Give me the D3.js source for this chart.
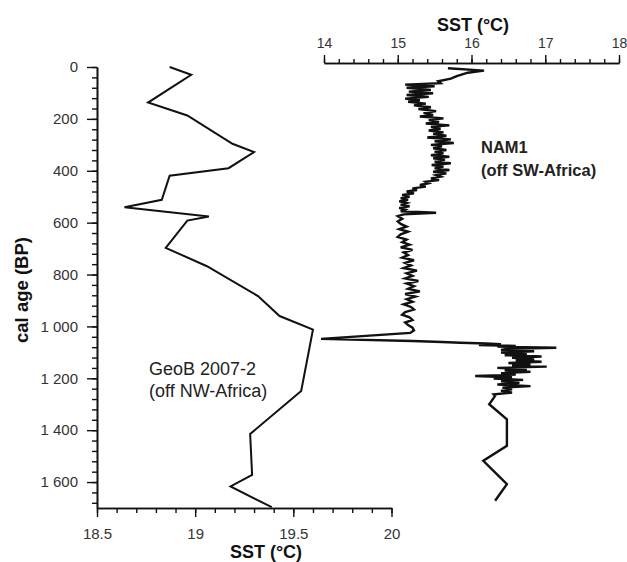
<!DOCTYPE html>
<html>
<head>
<meta charset="utf-8">
<script src="https://cdn.jsdelivr.net/npm/d3@7"></script>
<style>
  html, body { margin: 0; padding: 0; background: #fff; }
  svg { display: block; }
  text { font-family: "Liberation Sans", Arial, sans-serif; }
</style>
</head>
<body>
<script>
// ---------- data ----------
// GeoB 2007-2 (off NW-Africa): cal age (BP), SST (°C) – bottom axis
const geobAge = [0, 30, 137, 187, 296, 328, 390, 419, 512, 541, 576, 592, 697, 768, 883, 960, 1012, 1249, 1415, 1572, 1617, 1697];
const geobSST = [18.87, 18.98, 18.76, 18.96, 19.19, 19.30, 19.17, 18.87, 18.83, 18.64, 19.07, 18.96, 18.85, 19.06, 19.32, 19.43, 19.60, 19.54, 19.28, 19.29, 19.18, 19.39];

// NAM1 (off SW-Africa): cal age (BP), SST (°C) – top axis
const namAge = [5, 14, 22, 35, 45, 55, 62, 68, 74, 80, 88, 95, 101, 108, 115, 122, 128, 134, 141, 148,
  155, 162, 170, 178, 185, 191, 198, 205, 212, 218, 225, 231, 238, 245, 252, 258, 265, 272, 279, 286,
  293, 300, 306, 313, 320, 326, 333, 340, 346, 352, 358, 365, 371, 378, 384, 391, 397, 404, 410, 417,
  423, 430, 436, 442, 448, 455, 461, 468, 474, 480, 487, 493, 500, 506, 512, 518, 524, 531, 537, 543,
  550, 556, 562, 568, 575, 585, 595, 605, 615, 625, 635, 645, 655, 665, 675, 685, 695, 705, 715, 725,
  735, 745, 755, 765, 775, 785, 795, 805, 815, 825, 835, 845, 855, 865, 875, 885, 895, 905, 915, 925,
  935, 945, 955, 965, 975, 985, 995, 1005, 1015, 1025, 1048, 1056, 1060, 1063, 1066, 1069, 1072, 1075, 1078, 1082,
  1086, 1091, 1096, 1101, 1106, 1111, 1116, 1121, 1126, 1131, 1136, 1141, 1146, 1151, 1155, 1160, 1165, 1170, 1175, 1180,
  1186, 1191, 1196, 1201, 1206, 1212, 1218, 1224, 1230, 1236, 1242, 1248, 1255, 1262, 1268, 1300, 1358, 1460, 1518, 1608, 1672];
const namSST = [15.68, 16.17, 15.95, 15.80, 15.72, 15.55, 15.58, 15.10, 15.50, 15.12, 15.45, 15.15, 15.48, 15.12, 15.42, 15.10, 15.30, 15.14, 15.38, 15.22,
  15.45, 15.28, 15.52, 15.35, 15.48, 15.30, 15.62, 15.42, 15.56, 15.38, 15.70, 15.45, 15.58, 15.42, 15.62, 15.48, 15.66, 15.40, 15.72, 15.50,
  15.76, 15.45, 15.60, 15.48, 15.66, 15.50, 15.62, 15.45, 15.70, 15.48, 15.64, 15.50, 15.72, 15.46, 15.62, 15.50, 15.70, 15.48, 15.66, 15.52,
  15.58, 15.45, 15.56, 15.38, 15.42, 15.30, 15.38, 15.20, 15.26, 15.12, 15.22, 15.06, 15.16, 15.04, 15.14, 15.02, 15.12, 15.04, 15.16, 15.02,
  15.10, 15.04, 15.52, 15.08, 15.00, 15.06, 15.00, 15.04, 15.12, 15.02, 15.14, 15.04, 15.00, 15.12, 15.06, 15.16, 15.04, 15.20, 15.08, 15.14,
  15.06, 15.22, 15.10, 15.18, 15.08, 15.26, 15.12, 15.20, 15.10, 15.28, 15.12, 15.22, 15.14, 15.30, 15.10, 15.24, 15.12, 15.20, 15.08, 15.18,
  15.22, 15.10, 15.06, 15.16, 15.20, 15.10, 15.14, 15.20, 15.22, 15.17, 13.96, 15.20, 15.60, 15.85, 16.20, 16.40, 16.10, 16.60, 16.35, 17.15,
  16.50, 16.40, 16.85, 16.40, 16.75, 16.45, 16.95, 16.55, 16.85, 16.60, 16.95, 16.50, 16.80, 16.55, 17.02, 16.35, 16.75, 16.45, 16.80, 16.40,
  16.60, 16.05, 16.55, 16.30, 16.70, 16.40, 16.65, 16.35, 16.80, 16.42, 16.55, 16.40, 16.55, 16.30, 16.32, 16.24, 16.48, 16.48, 16.16, 16.48, 16.32];

// tick labels
const ageTicks = [0, 200, 400, 600, 800, 1000, 1200, 1400, 1600];
const bottomTicks = [18.5, 19, 19.5, 20];
const topTicks = [14, 15, 16, 17, 18];

const labelGeoB = ["GeoB 2007-2", "(off NW-Africa)"];
const labelNAM = ["NAM1", "(off SW-Africa)"];
const axisTitleSST = "SST (°C)";
const axisTitleAge = "cal age (BP)";

// ---------- chart ----------
const W = 627, H = 562;
const svg = d3.select("body").append("svg").attr("width", W).attr("height", H);

const y = d3.scaleLinear().domain([0, 1700]).range([67, 508]);
const xBot = d3.scaleLinear().domain([18.5, 20]).range([97, 391.5]);
const xTop = d3.scaleLinear().domain([14, 18]).range([324, 619]);

const loc = d3.formatLocale({decimal: ".", thousands: " ", grouping: [3], currency: ["", ""]});
const fmtAge = loc.format(",");

function styleAxis(g, fs) {
  g.selectAll("path.domain").attr("stroke", "#111").attr("stroke-width", 1.6);
  g.selectAll(".tick line").attr("stroke", "#111").attr("stroke-width", 1.4);
  g.selectAll(".tick text").attr("fill", "#333").style("font-size", fs + "px")
    .style("font-family", '"Liberation Sans", Arial, sans-serif');
}

// left axis
const leftMinor = svg.append("g").attr("transform", "translate(97,0)")
  .call(d3.axisLeft(y).tickValues(d3.range(0, 1701, 40)).tickSize(5).tickSizeOuter(0).tickFormat(""));
styleAxis(leftMinor, 15);
const leftAxis = svg.append("g").attr("transform", "translate(97,0)")
  .call(d3.axisLeft(y).tickValues(ageTicks).tickSize(10).tickSizeOuter(0).tickPadding(9).tickFormat(fmtAge));
styleAxis(leftAxis, 15);

// bottom axis
const botMinor = svg.append("g").attr("transform", "translate(0,508)")
  .call(d3.axisBottom(xBot).tickValues(d3.range(185, 201).map(d => d / 10)).tickSize(5).tickSizeOuter(0).tickFormat(""));
styleAxis(botMinor, 15);
const botAxis = svg.append("g").attr("transform", "translate(0,508)")
  .call(d3.axisBottom(xBot).tickValues(bottomTicks).tickSize(9).tickSizeOuter(0).tickPadding(11).tickFormat(d3.format("")));
styleAxis(botAxis, 15);

// top axis
const topMinor = svg.append("g").attr("transform", "translate(0,63)")
  .call(d3.axisTop(xTop).tickValues(d3.range(70, 91, 1).map(d => d / 5)).tickSize(4).tickSizeOuter(0).tickFormat(""));
styleAxis(topMinor, 14);
const topAxis = svg.append("g").attr("transform", "translate(0,63)")
  .call(d3.axisTop(xTop).tickValues(topTicks).tickSize(8).tickSizeOuter(0).tickPadding(7).tickFormat(d3.format("")));
styleAxis(topAxis, 14);

// axis titles
svg.append("text").attr("x", 473).attr("y", 31).attr("text-anchor", "middle")
  .style("font-size", "18px").style("font-weight", "bold").attr("fill", "#111").text(axisTitleSST);
svg.append("text").attr("x", 266).attr("y", 558).attr("text-anchor", "middle")
  .style("font-size", "18px").style("font-weight", "bold").attr("fill", "#111").text(axisTitleSST);
svg.append("text").attr("transform", "translate(28,290) rotate(-90)").attr("text-anchor", "middle")
  .style("font-size", "18.5px").style("font-weight", "bold").attr("fill", "#111").text(axisTitleAge);

// lines
const geob = geobAge.map((a, i) => ({age: a, sst: geobSST[i]}));
const nam = namAge.map((a, i) => ({age: a, sst: namSST[i]}));

svg.append("path").datum(geob)
  .attr("fill", "none").attr("stroke", "#111").attr("stroke-width", 2).attr("stroke-linejoin", "miter")
  .attr("d", d3.line().x(d => xBot(d.sst)).y(d => y(d.age)));

svg.append("path").datum(nam)
  .attr("fill", "none").attr("stroke", "#111").attr("stroke-width", 2.4).attr("stroke-linejoin", "miter")
  .attr("d", d3.line().x(d => xTop(d.sst)).y(d => y(d.age)));

// labels
const gLab = svg.append("text").attr("x", 149).attr("y", 375).style("font-size", "18px").attr("fill", "#222");
gLab.append("tspan").attr("x", 149).attr("y", 375).text(labelGeoB[0]);
gLab.append("tspan").attr("x", 149).attr("y", 397).text(labelGeoB[1]);

const nLab = svg.append("text").style("font-size", "16.5px").style("font-weight", "bold").attr("fill", "#222");
nLab.append("tspan").attr("x", 481).attr("y", 153).text(labelNAM[0]);
nLab.append("tspan").attr("x", 481).attr("y", 176).text(labelNAM[1]);
</script>
</body>
</html>
